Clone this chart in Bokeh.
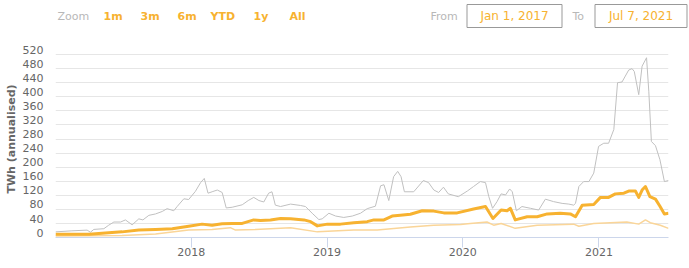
import pandas as pd
from bokeh.plotting import figure
from bokeh.layouts import column, row
from bokeh.models import Range1d, FixedTicker, DatetimeTickFormatter, ColumnDataSource, CustomJSTickFormatter
from bokeh.core.properties import value
from bokeh.embed import file_html
from bokeh.resources import INLINE

# ---------------- data ----------------
upper_dates = ["2017-01-01","2017-02-14","2017-03-27","2017-04-05","2017-04-14","2017-05-11","2017-05-24","2017-06-07","2017-06-25","2017-07-08","2017-07-26","2017-08-13","2017-08-24","2017-09-09","2017-09-27","2017-10-15","2017-10-28","2017-11-15","2017-11-24","2017-12-12","2017-12-25","2018-01-12","2018-01-26","2018-02-05","2018-02-15","2018-02-26","2018-03-12","2018-03-25","2018-04-05","2018-04-21","2018-05-18","2018-06-03","2018-06-18","2018-07-02","2018-07-15","2018-07-28","2018-08-06","2018-08-15","2018-08-29","2018-09-25","2018-10-22","2018-11-04","2018-11-22","2018-12-10","2018-12-19","2019-01-06","2019-01-24","2019-02-15","2019-03-10","2019-04-01","2019-04-19","2019-05-11","2019-05-25","2019-06-03","2019-06-16","2019-06-29","2019-07-10","2019-07-19","2019-07-28","2019-08-22","2019-09-17","2019-10-01","2019-10-15","2019-10-28","2019-11-10","2019-11-23","2019-12-20","2020-01-13","2020-01-30","2020-02-17","2020-03-02","2020-03-11","2020-03-21","2020-04-02","2020-04-13","2020-04-25","2020-05-06","2020-05-13","2020-05-24","2020-06-08","2020-07-01","2020-07-23","2020-08-10","2020-09-01","2020-09-24","2020-10-12","2020-10-25","2020-10-30","2020-11-08","2020-11-21","2020-12-05","2020-12-18","2020-12-31","2021-01-14","2021-01-27","2021-02-10","2021-02-20","2021-03-04","2021-03-13","2021-03-22","2021-03-31","2021-04-06","2021-04-18","2021-04-27","2021-05-09","2021-05-15","2021-05-22","2021-06-02","2021-06-14","2021-06-26","2021-07-07"]
upper_values = [16,19,21,15,23,25,35,44,44,50,36,53,50,63,67,74,82,76,88,110,108,131,156,168,126,130,135,128,84,86,93,105,114,105,101,126,130,92,88,95,91,88,69,51,53,69,61,57,61,69,82,89,147,150,105,173,188,173,130,130,162,156,135,128,143,124,116,132,145,159,156,116,83,102,124,121,138,130,76,88,83,78,109,102,97,95,92,97,145,159,159,183,259,268,268,307,440,442,459,476,480,472,406,487,511,416,273,261,221,159,162]

estimate_dates = ["2017-01-01","2017-04-01","2017-05-15","2017-06-29","2017-08-13","2017-09-27","2017-11-11","2017-12-25","2018-01-30","2018-02-26","2018-03-25","2018-04-21","2018-05-18","2018-06-18","2018-07-06","2018-08-02","2018-08-29","2018-09-25","2018-10-31","2018-11-18","2018-12-06","2019-01-02","2019-02-06","2019-03-14","2019-04-19","2019-05-07","2019-06-03","2019-06-25","2019-07-17","2019-08-13","2019-09-14","2019-10-15","2019-11-11","2019-12-17","2020-01-30","2020-03-02","2020-03-22","2020-04-13","2020-04-29","2020-05-08","2020-05-21","2020-06-22","2020-07-19","2020-08-15","2020-09-19","2020-10-16","2020-10-30","2020-11-17","2020-12-18","2021-01-05","2021-01-27","2021-02-14","2021-03-09","2021-03-22","2021-04-09","2021-04-18","2021-04-27","2021-05-06","2021-05-18","2021-06-02","2021-06-14","2021-06-26","2021-07-07"]
estimate_values = [9,9,13,16,21,23,25,32,38,35,39,40,40,50,48,50,54,53,50,45,33,38,38,42,45,50,50,61,63,66,76,75,70,70,81,88,54,78,76,83,50,59,59,67,69,67,59,92,94,114,114,124,126,132,132,114,135,145,116,109,89,67,69]

lower_dates = ["2017-01-01","2017-06-29","2017-09-27","2017-12-25","2018-02-26","2018-04-16","2018-04-30","2018-06-22","2018-09-25","2018-12-06","2019-03-14","2019-05-16","2019-08-13","2019-10-15","2019-12-26","2020-01-21","2020-03-06","2020-03-24","2020-04-13","2020-05-21","2020-07-19","2020-10-25","2020-11-08","2020-12-18","2021-03-17","2021-04-18","2021-05-06","2021-05-19","2021-06-15","2021-07-07"]
lower_values = [4,6,10,21,23,28,21,23,28,16,21,21,30,35,37,40,44,35,40,26,35,38,32,40,44,38,50,42,35,26]

y_ticks = list(range(0, 561, 40))
y_label_lift = 14  # labels sit just above their gridlines, as in the original
x_tick_years = ["2018-01-01", "2019-01-01", "2020-01-01", "2021-01-01"]
range_buttons = ["1m", "3m", "6m", "YTD", "1y", "All"]
from_text = "Jan 1, 2017"
to_text = "Jul 7, 2021"
x_start, x_end = "2017-01-01", "2021-07-07"

FONT = "DejaVu Sans"
ORANGE = "#f7b230"
W = 689

def ms(d):
    return pd.Timestamp(d).value / 1e6

# ---------------- header (range selector) ----------------
head = figure(width=W, height=40, output_backend="svg", toolbar_location=None,
              x_range=Range1d(0, W), y_range=Range1d(40, 0),
              x_axis_location=None, y_axis_location=None,
              min_border=0, min_border_left=0, min_border_right=0,
              min_border_top=0, min_border_bottom=0)
head.outline_line_color = None
head.grid.visible = False

gray_src = ColumnDataSource(dict(x=[57, 430, 572], y=[15.5] * 3, t=["Zoom", "From", "To"]))
head.text("x", "y", text="t", source=gray_src, text_color="#b8b8b8",
          text_font=value(FONT), text_font_size="11px", text_baseline="middle", text_align="left")
btn_src = ColumnDataSource(dict(x=[103, 140, 177, 210, 253, 289], y=[15.5] * 6, t=range_buttons))
head.text("x", "y", text="t", source=btn_src, text_color=ORANGE, text_font_style="bold",
          text_font=value(FONT), text_font_size="11px", text_baseline="middle", text_align="left")
box_src = ColumnDataSource(dict(x=[514, 640.5], y=[15.5, 15.5], w=[95, 92], h=[23, 23],
                                t=[from_text, to_text]))
head.rect("x", "y", "w", "h", source=box_src, fill_color=None, line_color="#999999", line_width=1)
head.text("x", "y", text="t", source=box_src, text_color=ORANGE,
          text_font=value(FONT), text_font_size="12px", text_baseline="middle", text_align="center")

# ---------------- main chart ----------------
p = figure(width=W, height=228, x_axis_type="datetime",
           output_backend="svg", toolbar_location=None,
           x_range=Range1d(ms(x_start), ms(x_end)), y_range=Range1d(0, 560),
           min_border_left=55, min_border_right=21, min_border_top=0, min_border_bottom=31)
p.outline_line_color = None

p.line(pd.to_datetime(lower_dates), lower_values, color="#fad598", line_width=1.5)
p.line(pd.to_datetime(upper_dates), upper_values, color="#c0c0c0", line_width=1)
p.line(pd.to_datetime(estimate_dates), estimate_values, color=ORANGE, line_width=3, line_join="round")

ya = p.yaxis[0]
ya.ticker = FixedTicker(ticks=[t + y_label_lift for t in y_ticks[:-1]])
ya.formatter = CustomJSTickFormatter(args=dict(lift=y_label_lift),
                                     code="return String(Math.round(tick - lift));")
ya.axis_line_color = None
ya.major_tick_line_color = None
ya.major_tick_out = 0
ya.major_tick_in = 0
ya.major_label_standoff = 12
ya.major_label_text_color = "#666666"
ya.major_label_text_font = FONT
ya.major_label_text_font_size = "11px"
ya.axis_label = "TWh (annualised)"
ya.axis_label_text_font = FONT
ya.axis_label_text_font_style = "bold"
ya.axis_label_text_font_size = "11px"
ya.axis_label_text_color = "#666666"
ya.axis_label_standoff = 2
p.ygrid[0].ticker = FixedTicker(ticks=y_ticks)
p.ygrid.grid_line_color = "#e6e6e6"
p.xgrid.visible = False

xa = p.xaxis[0]
xa.ticker = FixedTicker(ticks=[ms(d) for d in x_tick_years])
xa.formatter = DatetimeTickFormatter(years="%Y", months="%Y", days="%Y", hours="%Y")
xa.axis_line_color = "#ccd6eb"
xa.major_tick_line_color = "#ccd6eb"
xa.major_tick_out = 10
xa.major_tick_in = 0
xa.minor_tick_line_color = None
xa.major_label_standoff = 0
xa.major_label_text_color = "#666666"
xa.major_label_text_font = FONT
xa.major_label_text_font_size = "11px"

layout = column(row(head), p, spacing=0)
open("out.html", "w").write(file_html(layout, INLINE))
